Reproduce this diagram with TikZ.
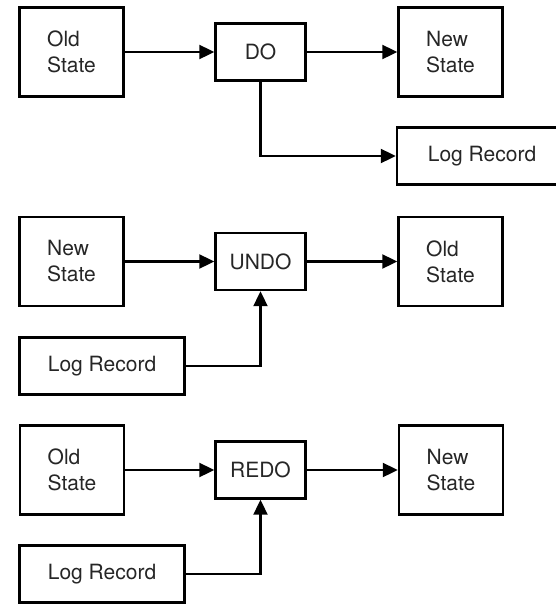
\documentclass[tikz,border=0pt]{standalone}
\usepackage{fontspec}
\setmainfont{TeX Gyre Heros}
\usetikzlibrary{arrows.meta}
\begin{document}
\begin{tikzpicture}[x=1pt,y=-1pt,
  box/.style={draw,line width=2.4pt,rectangle,inner sep=0pt,align=left,
    font=\fontsize{21}{26}\selectfont,text=black!85},
  statebox/.style={box,minimum width=104pt,minimum height=89pt},
  opbox/.style={box,minimum width=90pt,minimum height=57pt},
  logbox/.style={box,minimum width=165pt,minimum height=57pt},
  arr/.style={line width=2.1pt,-{Triangle[length=15pt,width=14pt]}}]
\useasboundingbox (0,0) rectangle (555,608);
% DO
\node[statebox] (os1) at (71.5,52) {Old\\State};
\node[opbox] (do) at (260.5,52) {DO};
\node[statebox] (ns1) at (450.5,52) {New\\State};
\node[logbox,minimum width=170pt] (lr1) at (482,156) {Log Record};
\draw[arr] (os1) -- (do);
\draw[arr] (do) -- (ns1);
\draw[arr] (do.south) |- (lr1.west);
% UNDO
\node[statebox] (ns2) at (71.5,261.5) {New\\State};
\node[opbox] (undo) at (260.5,261.5) {UNDO};
\node[statebox] (os2) at (450.5,261.5) {Old\\State};
\node[logbox] (lr2) at (102,366) {Log Record};
\draw[arr] (ns2) -- (undo);
\draw[arr] (undo) -- (os2);
\draw[arr] (lr2.east) -| (undo.south);
% REDO
\node[statebox] (os3) at (72,470) {Old\\State};
\node[opbox] (redo) at (260.5,470) {REDO};
\node[statebox] (ns3) at (451,470) {New\\State};
\node[logbox] (lr3) at (102,574) {Log Record};
\draw[arr] (os3) -- (redo);
\draw[arr] (redo) -- (ns3);
\draw[arr] (lr3.east) -| (redo.south);
\end{tikzpicture}
\end{document}
